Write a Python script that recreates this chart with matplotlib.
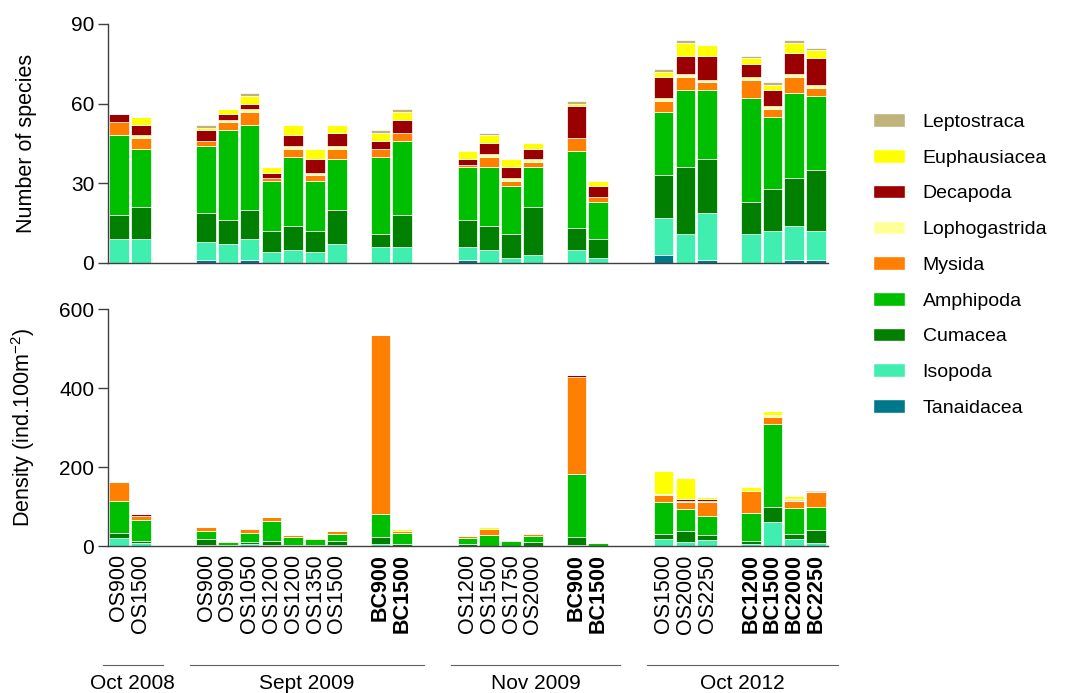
import numpy as np
import matplotlib
matplotlib.use('Agg')
import matplotlib.pyplot as plt
import matplotlib.transforms as mtransforms
from matplotlib.patches import Patch

plt.rcParams['font.family'] = ['Liberation Sans', 'DejaVu Sans']
plt.rcParams['mathtext.default'] = 'regular'

# ---- data -------------------------------------------------------------
taxa = ['Tanaidacea', 'Isopoda', 'Cumacea', 'Amphipoda', 'Mysida',
        'Lophogastrida', 'Decapoda', 'Euphausiacea', 'Leptostraca']
colors = ['#00788C', '#40EFAF', '#007F00', '#00BF00', '#FF8000',
          '#FFFF99', '#9B0000', '#FFFF00', '#BFB27A']

periods = ['Oct 2008', 'Sept 2009', 'Nov 2009', 'Oct 2012']
# sub groups: (period index, station labels)
subgroups = [
    (0, ['OS900', 'OS1500']),
    (1, ['OS900', 'OS900', 'OS1050', 'OS1200', 'OS1200', 'OS1350', 'OS1500']),
    (1, ['BC900', 'BC1500']),
    (2, ['OS1200', 'OS1500', 'OS1750', 'OS2000']),
    (2, ['BC900', 'BC1500']),
    (3, ['OS1500', 'OS2000', 'OS2250']),
    (3, ['BC1200', 'BC1500', 'BC2000', 'BC2250']),
]

# number of species, columns follow `taxa`
species = np.array([
    [0, 9, 9, 30, 5, 0, 3, 0, 0],
    [0, 9, 12, 22, 4, 1, 4, 3, 0],
    [1, 7, 11, 25, 2, 0, 4, 1, 1],
    [0, 7, 9, 34, 3, 1, 2, 2, 0],
    [1, 8, 11, 32, 5, 1, 2, 3, 1],
    [0, 4, 8, 19, 1, 0, 2, 2, 0],
    [0, 5, 9, 26, 3, 1, 4, 4, 0],
    [0, 4, 8, 19, 2, 1, 5, 4, 0],
    [0, 7, 13, 19, 4, 1, 5, 3, 0],
    [0, 6, 5, 29, 3, 0, 3, 3, 1],
    [0, 6, 12, 28, 3, 0, 5, 3, 1],
    [1, 5, 10, 20, 1, 0, 2, 3, 0],
    [0, 5, 9, 22, 4, 1, 4, 3, 1],
    [0, 2, 9, 18, 2, 1, 4, 3, 0],
    [0, 3, 18, 15, 2, 1, 4, 2, 0],
    [0, 5, 8, 29, 5, 0, 12, 1, 1],
    [0, 2, 7, 14, 2, 0, 4, 2, 0],
    [3, 14, 16, 24, 4, 1, 8, 2, 1],
    [0, 11, 25, 29, 5, 1, 7, 5, 1],
    [1, 18, 20, 26, 3, 1, 9, 4, 0],
    [0, 11, 12, 39, 7, 1, 5, 2, 1],
    [0, 12, 16, 27, 3, 1, 6, 2, 1],
    [1, 13, 18, 32, 6, 1, 8, 4, 1],
    [1, 11, 23, 28, 3, 1, 10, 3, 1],
])

# density (ind.100m-2)
density = np.array([
    [0, 21, 11, 83, 48, 0, 0, 0, 0],
    [0, 8, 4, 55, 10, 0, 3, 0, 0],
    [0, 2.5, 16, 20, 9, 1, 0, 0, 0],
    [0, 0, 2, 9, 1.5, 0, 0, 0, 0],
    [0, 5, 5, 24, 9, 3, 0, 0, 0],
    [0, 2.5, 9, 52, 11, 0, 0, 0, 0],
    [0, 0, 2, 21, 4, 3, 0, 0, 0],
    [0, 0, 2, 15, 3, 3, 0, 0, 0],
    [0, 3, 10, 18, 8, 2, 0, 0, 0],
    [0, 5, 19, 58, 451, 2, 0, 0, 0],
    [0, 0, 5, 27, 6, 0, 0, 4, 0],
    [0, 0, 4, 17, 4, 2, 0, 0, 0],
    [0, 0, 1, 26, 16, 0, 0, 4, 0],
    [0, 0, 0, 12, 2, 0, 0, 0, 0],
    [0, 0, 9, 17, 4, 2, 0, 0, 0],
    [0, 2.5, 19.5, 161, 245, 0, 4, 0, 0],
    [0, 0, 0, 7, 1, 0, 0, 0, 0],
    [0, 17.5, 12, 83, 16, 3, 0, 59, 0],
    [0, 10, 27, 57, 17, 4, 3, 54, 0],
    [0, 14, 13, 48, 37, 2, 4, 7, 0],
    [0, 5, 7.5, 71, 55, 0, 0, 10, 0],
    [0, 62, 36, 210, 19, 4, 0, 11, 0],
    [0, 18, 13, 66, 16, 3, 2, 9, 0],
    [0, 7, 34, 59, 37, 2, 3, 0, 0],
])

# ---- layout -----------------------------------------------------------
x, labels, period_of = [], [], []
pos = 0
prev = None
for per, stations in subgroups:
    if prev is not None:
        pos += 2 if per != prev else 1
    for s in stations:
        x.append(pos)
        labels.append(s)
        period_of.append(per)
        pos += 1
    prev = per
x = np.array(x, dtype=float)

fig = plt.figure(figsize=(10.73, 6.93), dpi=100)
ax1 = fig.add_axes([0.1007, 0.6205, 0.671, 0.345])
ax2 = fig.add_axes([0.1007, 0.2121, 0.671, 0.342])

spine_col = '#404040'
for ax, data, ymax, yt in [(ax1, species, 90, [0, 30, 60, 90]),
                           (ax2, density, 600, [0, 200, 400, 600])]:
    bottom = np.zeros(len(x))
    for k, name in enumerate(taxa):
        ax.bar(x, data[:, k], 0.9, bottom=bottom, color=colors[k],
               edgecolor='white', linewidth=0.5)
        bottom += data[:, k]
    ax.set_xlim(-0.5, 32.55)
    ax.set_ylim(0, ymax)
    ax.set_yticks(yt)
    for sp in ['top', 'right']:
        ax.spines[sp].set_visible(False)
    for sp in ['left', 'bottom']:
        ax.spines[sp].set_color(spine_col)
        ax.spines[sp].set_linewidth(1.0)
    ax.tick_params(axis='y', length=7, width=1, color=spine_col,
                   labelsize=15, pad=3)
    ax.tick_params(axis='x', length=0)

ax1.set_xticks([])
ax2.set_xticks(x)
ax2.set_xticklabels(labels, rotation=90, fontsize=15.5, va='top')
ax2.tick_params(axis='x', pad=6)
for t, lab in zip(ax2.get_xticklabels(), labels):
    if lab.startswith('BC'):
        t.set_fontweight('bold')

ax1.set_ylabel('Number of species', fontsize=15.5)
ax2.set_ylabel('Density (ind.100m$^{-2}$)', fontsize=15.5)
ax1.yaxis.set_label_coords(-0.098, 0.5)
ax2.yaxis.set_label_coords(-0.098, 0.5)

# period lines and labels under the axis
trans = mtransforms.blended_transform_factory(ax2.transData, fig.transFigure)
for i, name in enumerate(periods):
    xs = x[np.array(period_of) == i]
    x0, x1 = xs.min() - 0.75, xs.max() + 1.0
    ax2.plot([x0, x1], [0.0404, 0.0404], color='#606060', lw=0.8,
             transform=trans, clip_on=False)
    ax2.text((x0 + x1) / 2, 0.0144, name, transform=trans, ha='center',
             va='center', fontsize=15)

handles = [Patch(facecolor=colors[k], edgecolor='white', label=taxa[k])
           for k in range(len(taxa) - 1, -1, -1)]
fig.legend(handles=handles, loc='center left',
           bbox_to_anchor=(0.8136, 0.6176), frameon=False, fontsize=14,
           handlelength=1.65, handleheight=0.7, handletextpad=0.9,
           labelspacing=0.93, borderpad=0, borderaxespad=0)

fig.savefig('out.png', dpi=100)
